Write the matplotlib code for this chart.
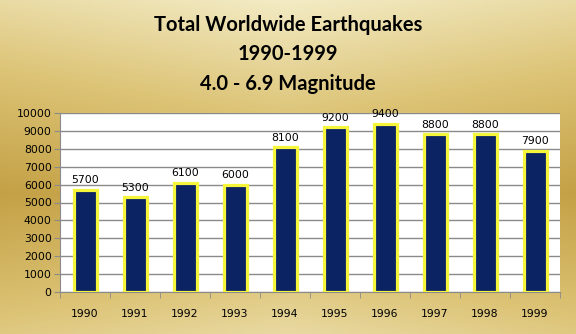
import numpy as np
import matplotlib.pyplot as plt
from matplotlib.colors import LinearSegmentedColormap

years = ["1990", "1991", "1992", "1993", "1994", "1995", "1996", "1997", "1998", "1999"]
quakes = [5700, 5300, 6100, 6000, 8100, 9200, 9400, 8800, 8800, 7900]
title_lines = ["Total Worldwide Earthquakes", "1990-1999", "4.0 - 6.9 Magnitude"]

fig = plt.figure(figsize=(5.76, 3.34), dpi=100)

# gold gradient background
bg = fig.add_axes([0, 0, 1, 1], zorder=0)
bg.axis("off")
yy = np.linspace(0, 1, 200)[:, None]
xx = np.linspace(0, 1, 300)[None, :]
v = 0.55 * np.abs(yy - 0.58) / 0.58 + 0.14 * (1 - np.abs(xx - 0.5) * 2)
v = np.clip(v + 0.12, 0, 1)
gold = LinearSegmentedColormap.from_list("gold", ["#c4a146", "#dcc375", "#f3ebc4"])
bg.imshow(v, cmap=gold, aspect="auto", extent=[0, 1, 0, 1], origin="upper")
bg.set_xlim(0, 1)
bg.set_ylim(0, 1)

for i, t in enumerate(title_lines):
    fig.text(0.5, 1 - (25 + 29.5 * i) / 334, t, ha="center", va="center",
             fontsize=14.5, fontweight="bold", family="Lato", color="black")

ax = fig.add_axes([60 / 576, 1 - 292 / 334, 500 / 576, 179 / 334], zorder=1)
ax.set_facecolor("white")
x = np.arange(len(years))
ax.bar(x, quakes, width=0.46, color="#0b2263", edgecolor="#f5f53c", linewidth=2.3, zorder=3)
for xi, q in zip(x, quakes):
    ax.text(xi, q + 250, str(q), ha="center", va="bottom", fontsize=7.8, family="DejaVu Sans")

ax.set_xlim(-0.5, len(years) - 0.5)
ax.set_ylim(0, 10000)
ax.set_yticks(range(0, 10001, 1000))
ax.yaxis.grid(True, color="#8a8a8a", linewidth=1, zorder=0)
ax.set_axisbelow(True)
ax.set_xticks(x)
ax.set_xticklabels(years)
ax.set_xticks(np.arange(-0.5, len(years), 1), minor=True)
ax.tick_params(axis="x", which="major", length=0, pad=12, labelsize=7.8)
ax.tick_params(axis="x", which="minor", length=4, color="#8a8a8a", direction="out")
ax.tick_params(axis="y", length=4, color="#8a8a8a", labelsize=7.8, pad=2)
for s in ["top", "right"]:
    ax.spines[s].set_visible(False)
for s in ["left", "bottom"]:
    ax.spines[s].set_color("#8a8a8a")

fig.savefig("out.png", dpi=100)
